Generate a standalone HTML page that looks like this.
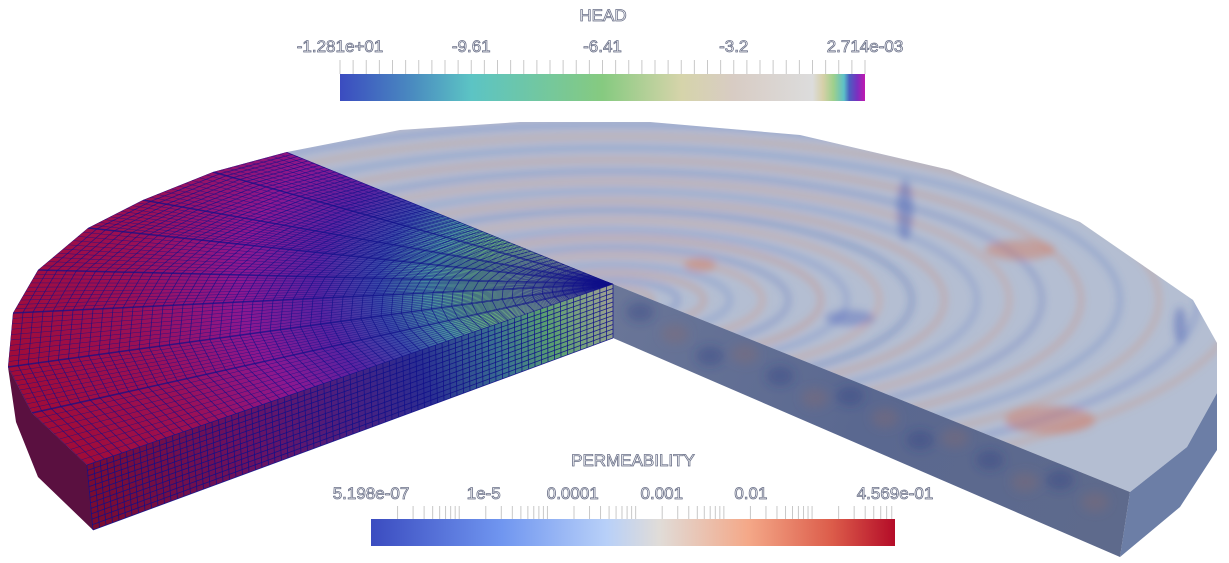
<!DOCTYPE html>
<html><head><meta charset="utf-8">
<style>
html,body{margin:0;padding:0;background:#fff;}
svg{display:block;font-family:"Liberation Sans",sans-serif;}
.lbl{fill:#fff;stroke:#6a7088;stroke-width:0.8px;font-size:17px;}
</style></head>
<body>
<svg id="s" width="1229" height="563" viewBox="0 0 1229 563" xmlns="http://www.w3.org/2000/svg">
<defs>
  <linearGradient id="headGrad" x1="0" x2="1" y1="0" y2="0">
    <stop offset="0" stop-color="#3b4cc0"/>
    <stop offset="0.14" stop-color="#4a8cc0"/>
    <stop offset="0.25" stop-color="#5cc4c4"/>
    <stop offset="0.5" stop-color="#86ca80"/>
    <stop offset="0.65" stop-color="#d6d4aa"/>
    <stop offset="0.75" stop-color="#d8ccc4"/>
    <stop offset="0.9" stop-color="#dcdcdc"/>
    <stop offset="0.92" stop-color="#d6d0a8"/>
    <stop offset="0.94" stop-color="#9ed08c"/>
    <stop offset="0.96" stop-color="#5cc0c8"/>
    <stop offset="0.97" stop-color="#4a60c0"/>
    <stop offset="0.985" stop-color="#7a30c0"/>
    <stop offset="1" stop-color="#c018b0"/>
  </linearGradient>
  <linearGradient id="permGrad" x1="0" x2="1" y1="0" y2="0">
    <stop offset="0" stop-color="#3b4cc0"/>
    <stop offset="0.25" stop-color="#7096f0"/>
    <stop offset="0.45" stop-color="#b8d0f8"/>
    <stop offset="0.55" stop-color="#e0dcd8"/>
    <stop offset="0.72" stop-color="#f4a888"/>
    <stop offset="0.88" stop-color="#dc5c4a"/>
    <stop offset="1" stop-color="#b40c28"/>
  </linearGradient>
  <radialGradient id="leftTop" gradientUnits="userSpaceOnUse" cx="613" cy="284" r="620" gradientTransform="translate(613 284) scale(1 0.55) translate(-613 -284)">
    <stop offset="0" stop-color="#b0b0a0"/>
    <stop offset="0.1" stop-color="#98b890"/>
    <stop offset="0.22" stop-color="#68b07c"/>
    <stop offset="0.3" stop-color="#4a90a0"/>
    <stop offset="0.38" stop-color="#3a48a8"/>
    <stop offset="0.48" stop-color="#5a22a0"/>
    <stop offset="0.6" stop-color="#8c1890"/>
    <stop offset="0.78" stop-color="#9a1056"/>
    <stop offset="1" stop-color="#a00c38"/>
  </radialGradient>
  <linearGradient id="leftFront" gradientUnits="userSpaceOnUse" x1="93" y1="500" x2="613" y2="312">
    <stop offset="0" stop-color="#7a0c30"/>
    <stop offset="0.3" stop-color="#6a1262"/>
    <stop offset="0.5" stop-color="#4a2080"/>
    <stop offset="0.64" stop-color="#2a2e92"/>
    <stop offset="0.78" stop-color="#3a7090"/>
    <stop offset="0.88" stop-color="#5aa070"/>
    <stop offset="1" stop-color="#9aa090"/>
  </linearGradient>
  <linearGradient id="rightFront" gradientUnits="userSpaceOnUse" x1="613" y1="300" x2="1120" y2="520">
    <stop offset="0" stop-color="#6a7698"/>
    <stop offset="0.5" stop-color="#5a6890"/>
    <stop offset="1" stop-color="#5e6a8c"/>
  </linearGradient>
  <clipPath id="topClip"><path d="M613,284 L287,152 L400,130 L520,122 L650,122 L800,135 L950,170 L1080,222 L1193,300 L1217,343 L1217,393 L1187,447 L1130,492 Z"/></clipPath>
  <clipPath id="leftClip"><path d="M613,284 L287,152 L213,172 L143,200 L88,228 L38,270 L13,313 L8,367 L32,413 L87,465 Z"/></clipPath>
  <clipPath id="rfClip"><path d="M613,284 L1130,492 L1120,557 L613,338 Z"/></clipPath>
  <filter id="blur" x="-20%" y="-20%" width="140%" height="140%"><feGaussianBlur stdDeviation="4"/></filter>
  <filter id="blur2" x="-20%" y="-20%" width="140%" height="140%"><feGaussianBlur stdDeviation="5"/></filter>
</defs>

<g>
  <path d="M613,284 L287,152 L400,130 L520,122 L650,122 L800,135 L950,170 L1080,222 L1193,300 L1217,343 L1217,393 L1187,447 L1130,492 Z" fill="#b4bed2"/>
  <g clip-path="url(#topClip)"><g id="rings" filter="url(#blur)"></g></g>
</g>
<path d="M1217,393 L1217,450 L1180,507 L1120,557 L1130,492 L1187,447 Z" fill="#6c7ea6"/>
<g>
  <path d="M613,284 L1130,492 L1120,557 L613,338 Z" fill="url(#rightFront)"/>
  <g clip-path="url(#rfClip)"><g id="rfBlobs" filter="url(#blur2)"></g></g>
</g>

<g>
  <path d="M8,367 L32,413 L87,465 L93,530 L38,477 L16,422 Z" fill="#5a1040"/>
  <path d="M613,284 L287,152 L213,172 L143,200 L88,228 L38,270 L13,313 L8,367 L32,413 L87,465 Z" fill="url(#leftTop)"/>
  <g id="leftMesh" clip-path="url(#leftClip)"></g>
  <path d="M613,284 L87,465 L93,530 L613,338 Z" fill="url(#leftFront)"/>
  <g id="frontMesh"></g>
</g>

<g>
  <text class="lbl" x="603" y="21" text-anchor="middle">HEAD</text>
  <rect x="340" y="74" width="525" height="27" fill="url(#headGrad)"/>
  <g id="headTicks"></g>
</g>
<g>
  <text class="lbl" x="633" y="466" text-anchor="middle">PERMEABILITY</text>
  <rect x="371" y="519" width="524" height="27" fill="url(#permGrad)"/>
  <g id="permTicks"></g>
</g>
</svg>
<script>
const headLabels = ["-1.281e+01","-9.61","-6.41","-3.2","2.714e-03"];
const headLabelX = [0, 0.25, 0.5, 0.75, 1.0];
const permLabels = ["5.198e-07","1e-5","0.0001","0.001","0.01","4.569e-01"];
const permLabelFrac = [0, 0.215, 0.385, 0.555, 0.725, 1.0];
const NS="http://www.w3.org/2000/svg";
function mk(tag, attrs, parent){const e=document.createElementNS(NS,tag);for(const k in attrs)e.setAttribute(k,attrs[k]);parent.appendChild(e);return e;}

const hx=v=>340+v*525;
const ht=document.getElementById('headTicks');
for(let i=0;i<=40;i++){
  const t=mk('line',{x1:hx(i/40),x2:hx(i/40),y1:60,y2:74,stroke:'#c8c8c8','stroke-width':1},ht);
  
  
}
headLabels.forEach((l,i)=>{
  const t=mk('text',{x:hx(headLabelX[i]),y:52,'text-anchor':'middle',class:'lbl'},ht);
  t.textContent=l;
  
  
});
const px=v=>371+v*524;
const pt=document.getElementById('permTicks');
const ptk=[];
for(let d=0;d<6;d++){for(let m=1;m<10;m++){const f=(Math.log10(m)+d)/5.94; if(f>0&&f<1) ptk.push(f);}}
ptk.forEach(f=>{
  const t=mk('line',{x1:px(f),x2:px(f),y1:506,y2:519,stroke:'#c8c8c8','stroke-width':1},pt);
  
  
});
permLabels.forEach((l,i)=>{
  const t=mk('text',{x:px(permLabelFrac[i]),y:499,'text-anchor':'middle',class:'lbl'},pt);
  t.textContent=l;
  
  
});

const rg=document.getElementById('rings');
const ringR=[0.06,0.1,0.14,0.18,0.23,0.27,0.32,0.36,0.41,0.46,0.51,0.56,0.61,0.66,0.72,0.78,0.84,0.9,0.96];
const ringC=["#d8805c","#4a68c0","#d87a5a","#5a7ac8","#e08a68","#4a64b8","#d87858","#5a78c8","#e08c6c","#3a58b0","#d88060","#5a78c4","#dc8a6c","#4a64b8","#d88060","#5070c0","#d88a6a","#4a68c0","#d88a6a"];
ringR.forEach((r,i)=>{
  const e=mk('ellipse',{cx:613,cy:300,rx:650*r,ry:195*r,fill:'none',stroke:ringC[i],'stroke-width':4,'stroke-opacity':0.4},rg);
  
  
});
const blobs=[[1050,420,45,14,"#d86a4a"],[1020,250,35,10,"#d87050"],[905,210,8,30,"#3a50b0"],[1180,325,6,18,"#3a50b0"],[700,265,16,7,"#d87050"],[850,318,25,8,"#4a60b8"]];
blobs.forEach(b=>{const e=mk('ellipse',{cx:b[0],cy:b[1],rx:b[2],ry:b[3],fill:b[4],'fill-opacity':0.4},rg);
  
  });
const rf=document.getElementById('rfBlobs');
for(let i=0;i<14;i++){
  const x=640+i*35, y=310+i*14+((i%3)-1)*8;
  const e=mk('ellipse',{cx:x,cy:y+10,rx:14,ry:10,fill:(i%2?'#8a6a70':'#2c3c80'),'fill-opacity':0.35},rf);
  
  
}

const lm=document.getElementById('leftMesh');
const outer=[[287,152],[213,172],[143,200],[88,228],[38,270],[13,313],[8,367],[32,413],[87,465]];
const ax=613, ay=284;
for(let s=0;s<outer.length-1;s++){
  const [x0,y0]=outer[s],[x1,y1]=outer[s+1];
  const n=10;
  for(let k=0;k<n;k++){
    const t=k/n, ox=x0+(x1-x0)*t, oy=y0+(y1-y0)*t;
    const l=mk('line',{x1:ax,y1:ay,x2:ox,y2:oy,stroke:'#10108a','stroke-width':k==0?1.5:0.5,'stroke-opacity':0.75},lm);
    
    
  }
}
for(let r=1;r<=60;r++){
  const f=r/60;
  const pts=outer.map(p=>(ax+(p[0]-ax)*f).toFixed(1)+','+(ay+(p[1]-ay)*f).toFixed(1)).join(' ');
  const l=mk('polyline',{points:pts,fill:'none',stroke:'#10108a','stroke-width':0.8,'stroke-opacity':0.75},lm);
  
  
}
const fm=document.getElementById('frontMesh');
for(let i=0;i<=80;i++){
  const t=i/80;
  const x1=613+(87-613)*t, y1=284+(465-284)*t, x2=613+(93-613)*t, y2=338+(530-338)*t;
  const l=mk('line',{x1:x1,y1:y1,x2:x2,y2:y2,stroke:'#10108a','stroke-width':0.8,'stroke-opacity':0.9},fm);
  
  
}
for(let j=0;j<=12;j++){
  const f=j/12;
  const l=mk('line',{x1:613,y1:284+54*f,x2:87+6*f,y2:465+65*f,stroke:'#10108a','stroke-width':0.8,'stroke-opacity':0.9},fm);
  
  
}
</script>
</body></html>
